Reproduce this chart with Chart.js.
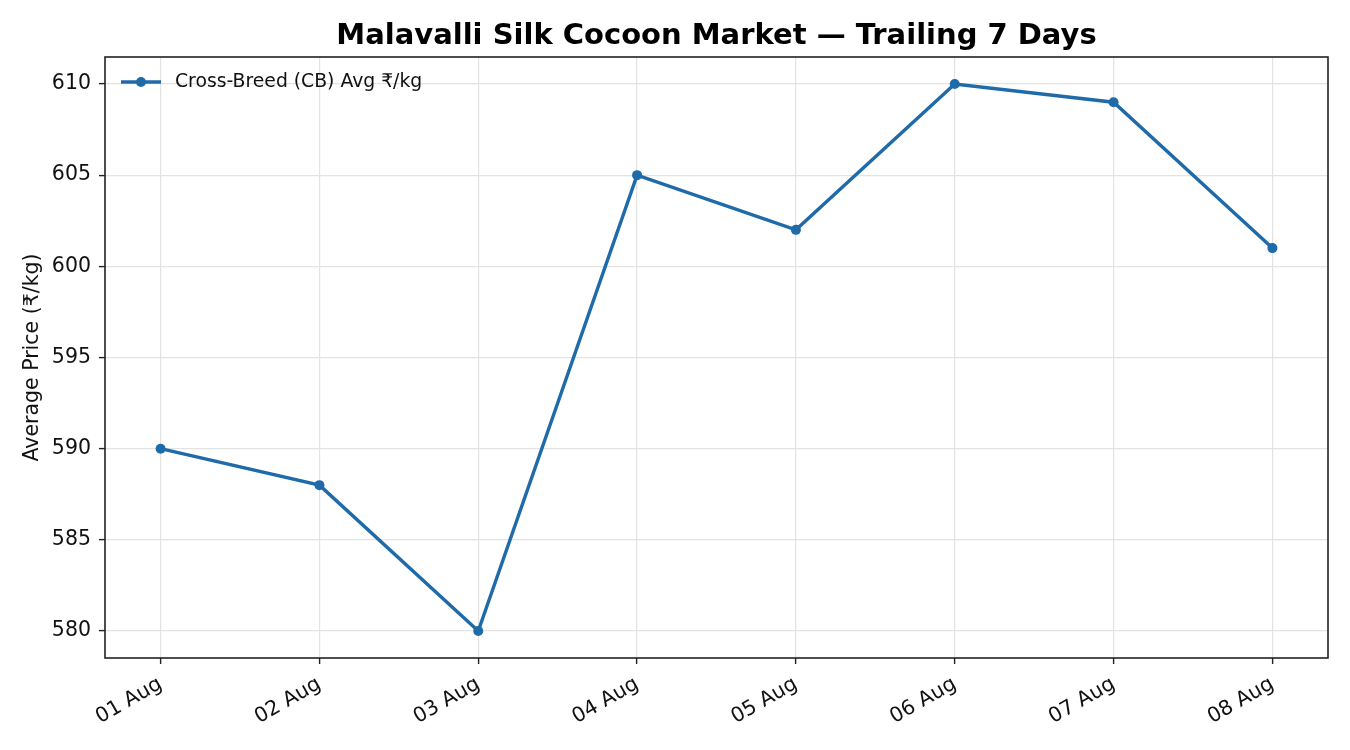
<!DOCTYPE html>
<html>
<head>
<meta charset="utf-8">
<script src="https://cdn.jsdelivr.net/npm/chart.js@4"></script>
<style>
  html, body { margin: 0; padding: 0; background: #ffffff; }
  #wrap { width: 1350px; height: 750px; }
</style>
</head>
<body>
<div id="wrap"><canvas id="c" width="1350" height="750"></canvas></div>
<script>
const chartTitle = "Malavalli Silk Cocoon Market — Trailing 7 Days";
const dates = ["01 Aug", "02 Aug", "03 Aug", "04 Aug", "05 Aug", "06 Aug", "07 Aug", "08 Aug"];
const cbPrices = [590, 588, 580, 605, 602, 610, 609, 601];
const seriesLabel = "Cross-Breed (CB) Avg ₹/kg";
const yTicks = [580, 585, 590, 595, 600, 605, 610];
const yTitle = "Average Price (₹/kg)";

const FONT = "'DejaVu Sans', sans-serif";
const LINE = "#1f6aa9";
const AXIS = "#222222";
const GRID = "#e3e3e3";

const framePlugin = {
  id: 'frame',
  afterDatasetsDraw(chart) {
    const { ctx, chartArea: a } = chart;
    ctx.save();
    ctx.strokeStyle = AXIS;
    ctx.lineWidth = 1.6;
    ctx.strokeRect(a.left, a.top, a.right - a.left, a.bottom - a.top);
    ctx.restore();
  },
  afterDraw(chart) {
    const { ctx, chartArea: a } = chart;
    ctx.save();
    // title
    ctx.fillStyle = '#000';
    ctx.font = "bold 29px " + FONT;
    ctx.textAlign = 'center';
    ctx.textBaseline = 'middle';
    ctx.fillText(chartTitle, (a.left + a.right) / 2, 36);
    // legend
    const ds = chart.data.datasets[0];
    const ly = 82;
    ctx.strokeStyle = ds.borderColor;
    ctx.lineWidth = 3.4;
    ctx.beginPath();
    ctx.moveTo(a.left + 16, ly);
    ctx.lineTo(a.left + 56, ly);
    ctx.stroke();
    ctx.fillStyle = ds.borderColor;
    ctx.beginPath();
    ctx.arc(a.left + 36, ly, 5, 0, Math.PI * 2);
    ctx.fill();
    ctx.fillStyle = '#111';
    ctx.font = "18.8px " + FONT;
    ctx.textAlign = 'left';
    ctx.fillText(ds.label, a.left + 70, ly);
    ctx.restore();
  }
};

new Chart(document.getElementById('c'), {
  type: 'line',
  data: {
    datasets: [{
      label: seriesLabel,
      data: cbPrices.map((v, i) => ({ x: i, y: v })),
      borderColor: LINE,
      backgroundColor: LINE,
      borderWidth: 3.4,
      pointRadius: 5,
      pointHoverRadius: 5,
      pointBackgroundColor: LINE,
      pointBorderWidth: 0,
      tension: 0,
      fill: false
    }]
  },
  options: {
    responsive: false,
    devicePixelRatio: 1,
    animation: false,
    events: [],
    layout: { padding: { top: 57, right: 22, left: 0, bottom: 0 } },
    plugins: {
      legend: { display: false },
      title: { display: false },
      tooltip: { enabled: false }
    },
    scales: {
      x: {
        type: 'linear',
        min: -0.35,
        max: 7.35,
        afterBuildTicks(scale) { scale.ticks = dates.map((d, i) => ({ value: i })); },
        afterFit(scale) { scale.height = 92; },
        ticks: {
          callback: (v) => dates[v] ?? '',
          minRotation: 30,
          maxRotation: 30,
          autoSkip: false,
          padding: 8,
          color: '#111',
          font: { family: FONT, size: 20.5 }
        },
        grid: {
          color: GRID,
          lineWidth: 1.2,
          tickLength: 6,
          tickColor: AXIS,
          tickWidth: 1.4,
          drawTicks: true
        },
        border: { display: false }
      },
      y: {
        type: 'linear',
        min: 578.52,
        max: 611.48,
        afterBuildTicks(scale) { scale.ticks = yTicks.map(v => ({ value: v })); },
        afterFit(scale) { scale.width = 105; },
        ticks: {
          padding: 8,
          color: '#111',
          font: { family: FONT, size: 20.5 }
        },
        title: {
          display: true,
          text: yTitle,
          color: '#111',
          font: { family: FONT, size: 20.5 },
          padding: { top: 20, bottom: 0 }
        },
        grid: {
          color: GRID,
          lineWidth: 1.2,
          tickLength: 6,
          tickColor: AXIS,
          tickWidth: 1.4,
          drawTicks: true
        },
        border: { display: false }
      }
    }
  },
  plugins: [framePlugin]
});
</script>
</body>
</html>
